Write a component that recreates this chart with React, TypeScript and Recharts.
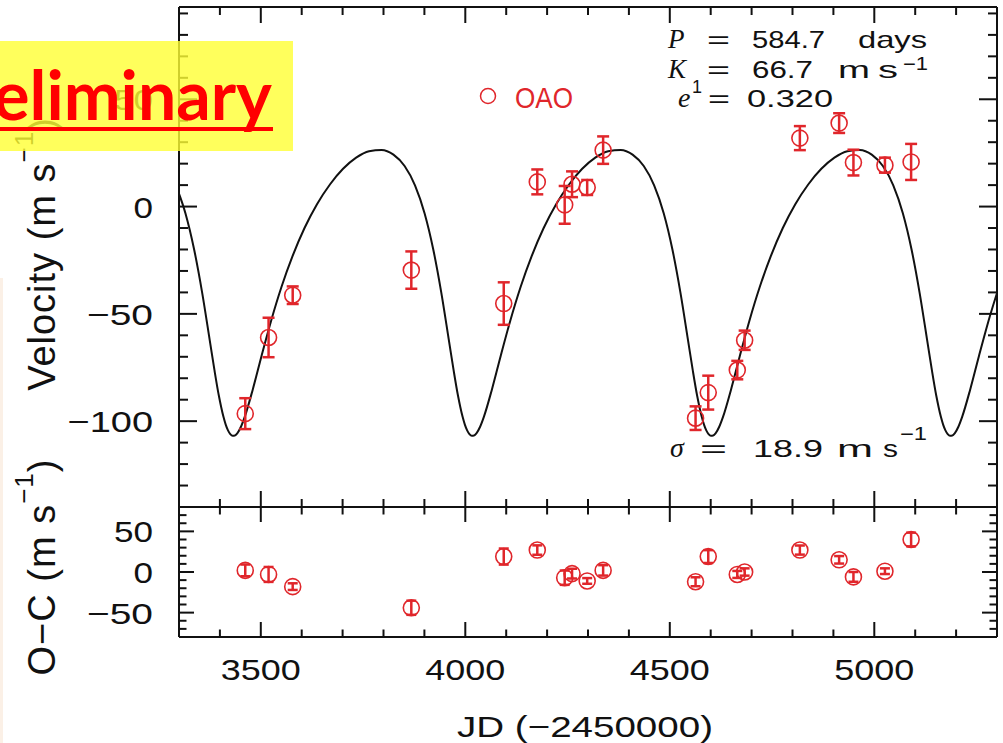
import React from "react";
import { ComposedChart, Line, Scatter, ErrorBar, XAxis, YAxis } from "recharts";

// orbit model curve (JD - 2450000, m/s)
const curveJd = [
  3292.3, 3315.7, 3337.0, 3356.7, 3374.9, 3386.4, 3397.6, 3403.2,
  3408.7, 3414.2, 3419.8, 3425.4, 3431.0, 3436.7, 3442.5, 3451.5, 3460.7, 3480.4, 3501.8, 3525.1,
  3550.5, 3577.8, 3606.9, 3637.4, 3669.0, 3701.1, 3733.1, 3764.7, 3795.2, 3824.3, 3851.6, 3877.0,
  3900.4, 3921.7, 3941.4, 3959.6, 3971.1, 3982.3, 3987.9,
  3993.4, 3998.9, 4004.5, 4010.1, 4015.7, 4021.4, 4027.2, 4036.2, 4045.4, 4065.1, 4086.5, 4109.8,
  4135.2, 4162.5, 4191.6, 4222.1, 4253.7, 4285.8, 4317.8, 4349.4, 4379.9, 4409.0, 4436.3, 4461.7,
  4485.1, 4506.4, 4526.1, 4544.3, 4555.8, 4567.0, 4572.6,
  4578.1, 4583.6, 4589.2, 4594.8, 4600.4, 4606.1, 4611.9, 4620.9, 4630.1, 4649.8, 4671.2, 4694.5,
  4719.9, 4747.2, 4776.3, 4806.8, 4838.4, 4870.5, 4902.5, 4934.1, 4964.6, 4993.7, 5021.0, 5046.4,
  5069.8, 5091.1, 5110.8, 5129.0, 5140.5, 5151.7, 5157.3,
  5162.8, 5168.3, 5173.9, 5179.5, 5185.1, 5190.8, 5196.6, 5205.6, 5214.8, 5234.5, 5255.9, 5279.2, 5304.6,
];
const curveV = [
  9.9, -3.1, -20.0, -40.2, -62.0, -75.9, -88.3, -93.5,
  -98.0, -101.6, -104.3, -106.0, -106.8, -106.7, -105.7, -102.6, -98.0, -85.2, -69.6, -53.3,
  -37.5, -23.0, -10.0, 1.1, 10.3, 17.6, 22.8, 25.8, 26.4, 24.2, 18.9, 9.9,
  -3.1, -20.0, -40.2, -62.0, -75.9, -88.3, -93.5,
  -98.0, -101.6, -104.3, -106.0, -106.8, -106.7, -105.7, -102.6, -98.0, -85.2, -69.6, -53.3,
  -37.5, -23.0, -10.0, 1.1, 10.3, 17.6, 22.8, 25.8, 26.4, 24.2, 18.9, 9.9,
  -3.1, -20.0, -40.2, -62.0, -75.9, -88.3, -93.5,
  -98.0, -101.6, -104.3, -106.0, -106.8, -106.7, -105.7, -102.6, -98.0, -85.2, -69.6, -53.3,
  -37.5, -23.0, -10.0, 1.1, 10.3, 17.6, 22.8, 25.8, 26.4, 24.2, 18.9, 9.9,
  -3.1, -20.0, -40.2, -62.0, -75.9, -88.3, -93.5,
  -98.0, -101.6, -104.3, -106.0, -106.8, -106.7, -105.7, -102.6, -98.0, -85.2, -69.6, -53.3, -37.5,
];

// OAO radial velocities
const obsJd = [3462, 3519, 3578, 3868, 4094, 4176, 4243, 4261, 4298, 4337, 4563, 4594, 4665, 4683, 4818, 4914, 4949, 5026, 5090];
const obsV = [-96.5, -61.0, -41.3, -29.6, -45.2, 11.5, 0.8, 10.4, 8.9, 26.3, -98.6, -86.7, -76.2, -62.3, 31.9, 38.9, 20.5, 19.3, 20.8];
const obsErr = [7.2, 9.2, 4.1, 8.7, 9.9, 5.8, 8.8, 6.0, 3.5, 6.4, 5.5, 7.9, 4.3, 4.5, 5.6, 4.6, 6.0, 3.5, 8.4];
// residuals O-C
const resV = [2, -3, -18, -44, 19, 27, -7, -2, -11, 2, -12, 19, -3, 0, 27, 15, -6, 1, 40];

// ticks
const xTicks = [3400, 3500, 3600, 3700, 3800, 3900, 4000, 4100, 4200, 4300, 4400, 4500, 4600, 4700, 4800, 4900, 5000, 5100, 5200];
const vTicks = [-130, -120, -110, -100, -90, -80, -70, -60, -50, -40, -30, -20, -10, 0, 10, 20, 30, 40, 50, 60, 70, 80, 90];
const rTicks = [-70, -60, -50, -40, -30, -20, -10, 0, 10, 20, 30, 40, 50, 60, 70];

const W = 1003;
const H = 743;
const FONT = "'Liberation Sans', Arial, Helvetica, sans-serif";
const SERIF = "'Liberation Serif', 'Times New Roman', serif";
const RED = "#e0262b";
const INK = "#111";

const curve = curveJd.map((jd, i) => ({ jd, v: curveV[i] }));
const obs = obsJd.map((jd, i) => ({ jd, v: obsV[i], err: obsErr[i] }));
const res = obsJd.map((jd, i) => ({ jd, v: resV[i], err: obsErr[i] }));

const fmt = (v: number) => (v < 0 ? "\u2212" + Math.abs(v) : String(v));

// inward ticks like the IDL plot, labels only on major ticks
function axisTick(side: string, major: number, len: number, labels: boolean) {
  return (props: any) => {
    const { x, y, payload } = props;
    const v = payload.value as number;
    const big = v % major === 0;
    const l = big ? len : len / 2;
    let line = null;
    if (side === "left") line = <line x1={x} y1={y} x2={x + l} y2={y} />;
    if (side === "right") line = <line x1={x - l} y1={y} x2={x} y2={y} />;
    if (side === "top") line = <line x1={x} y1={y} x2={x} y2={y + l} />;
    if (side === "bottom") line = <line x1={x} y1={y - l} x2={x} y2={y} />;
    let label = null;
    if (labels && big) {
      const s = fmt(v);
      if (side === "left") {
        const n = s.replace("\u2212", "").length * 19.5 + (v < 0 ? 27 : 0);
        label = (
          <text x={x - 26} y={y + 11} textAnchor="end" textLength={n} lengthAdjust="spacingAndGlyphs"
            fontFamily={FONT} fontSize={30} fill={INK} stroke="none">{s}</text>
        );
      }
      if (side === "bottom") {
        label = (
          <text x={x} y={y + 43} textAnchor="middle" textLength={s.length * 20} lengthAdjust="spacingAndGlyphs"
            fontFamily={FONT} fontSize={30} fill={INK} stroke="none">{s}</text>
        );
      }
    }
    return (
      <g>
        <g stroke={INK} strokeWidth={2}>{line}</g>
        {label}
      </g>
    );
  };
}

const ring = (p: any) => <circle cx={p.cx} cy={p.cy} r={8} fill="none" stroke={RED} strokeWidth={1.6} />;

const axisLine = { stroke: INK, strokeWidth: 2 };
const common = { tickSize: 0, tickMargin: 0, tickLine: false, axisLine, interval: 0 as const, allowDataOverflow: true };

export default function App() {
  return (
    <div style={{ position: "absolute", left: 0, top: 0, width: W, height: H, overflow: "hidden", background: "#fff" }}>
      <div style={{ position: "absolute", left: 0, top: 0 }}>
        <ComposedChart width={W} height={H} margin={{ top: 6, right: 5, bottom: H - 508, left: 0 }}>
          <XAxis xAxisId="b" type="number" dataKey="jd" domain={[3300, 5300]} ticks={xTicks} height={1} {...common}
            tick={axisTick("bottom", 500, 16, false)} />
          <XAxis xAxisId="t" orientation="top" type="number" dataKey="jd" domain={[3300, 5300]} ticks={xTicks} height={1} {...common}
            tick={axisTick("top", 500, 16, false)} />
          <YAxis yAxisId="l" type="number" domain={[-140, 93]} ticks={vTicks} width={179} {...common}
            tick={axisTick("left", 50, 18, true)} />
          <YAxis yAxisId="r" orientation="right" type="number" domain={[-140, 93]} ticks={vTicks} width={1} {...common}
            tick={axisTick("right", 50, 18, false)} />
          <Line xAxisId="b" yAxisId="l" data={curve} dataKey="v" type="monotone" stroke={INK} strokeWidth={2}
            dot={false} isAnimationActive={false} />
          <Scatter xAxisId="b" yAxisId="l" data={obs} dataKey="v" shape={ring} isAnimationActive={false}>
            <ErrorBar dataKey="err" direction="y" width={6} stroke={RED} strokeWidth={2.5} />
          </Scatter>
        </ComposedChart>
      </div>
      <div style={{ position: "absolute", left: 0, top: 0 }}>
        <ComposedChart width={W} height={H} margin={{ top: 506, right: 5, bottom: H - 638, left: 0 }}>
          <XAxis xAxisId="b" type="number" dataKey="jd" domain={[3300, 5300]} ticks={xTicks} height={1} {...common}
            tick={axisTick("bottom", 500, 15, true)} />
          <XAxis xAxisId="t" orientation="top" type="number" dataKey="jd" domain={[3300, 5300]} ticks={xTicks} height={1} {...common}
            tick={axisTick("top", 500, 15, false)} />
          <YAxis yAxisId="l" type="number" domain={[-80, 80]} ticks={rTicks} width={179} {...common}
            tick={axisTick("left", 50, 15, true)} />
          <YAxis yAxisId="r" orientation="right" type="number" domain={[-80, 80]} ticks={rTicks} width={1} {...common}
            tick={axisTick("right", 50, 15, false)} />
          <Scatter xAxisId="b" yAxisId="l" data={res} dataKey="v" shape={ring} isAnimationActive={false}>
            <ErrorBar dataKey="err" direction="y" width={5} stroke={RED} strokeWidth={2.5} />
          </Scatter>
        </ComposedChart>
      </div>
      <svg width={W} height={H} style={{ position: "absolute", left: 0, top: 0 }}>
        <rect x={0} y={278} width={3} height={465} fill="#fbf0e6" />
        {/* axis titles */}
        <text transform="translate(55,254) rotate(-90)" textAnchor="middle" fontFamily={FONT} fontSize={38}
          letterSpacing={1} fill={INK}>
          Velocity (m s<tspan fontSize={26} dy={-22}>{"\u22121"}</tspan><tspan dy={22}>)</tspan>
        </text>
        <text transform="translate(55,567) rotate(-90)" textAnchor="middle" fontFamily={FONT} fontSize={38}
          letterSpacing={1} fill={INK}>
          {"O\u2212C (m s"}<tspan fontSize={26} dy={-22}>{"\u22121"}</tspan><tspan dy={22}>)</tspan>
        </text>
        <text x={457} y={737} textLength={256} lengthAdjust="spacingAndGlyphs" fontFamily={FONT} fontSize={30} fill={INK}>
          {"JD (\u22122450000)"}
        </text>

        {/* orbital parameters */}
        <g fontFamily={FONT} fontSize={24} fill={INK}>
          <text x={668} y={48} fontFamily={SERIF} fontStyle="italic" fontSize={27}>P</text>
          <text x={707} y={48} textLength={23} lengthAdjust="spacingAndGlyphs">=</text>
          <text x={752} y={48} textLength={73} lengthAdjust="spacingAndGlyphs">584.7</text>
          <text x={858} y={48} textLength={69} lengthAdjust="spacingAndGlyphs">days</text>

          <text x={668} y={78} fontFamily={SERIF} fontStyle="italic" fontSize={27}>K</text>
          <text x={692} y={93} fontSize={18}>1</text>
          <text x={707} y={78} textLength={23} lengthAdjust="spacingAndGlyphs">=</text>
          <text x={752} y={78} textLength={61} lengthAdjust="spacingAndGlyphs">66.7</text>
          <text x={838} y={78} textLength={32} lengthAdjust="spacingAndGlyphs">m</text>
          <text x={878} y={78} textLength={20} lengthAdjust="spacingAndGlyphs">s</text>
          <text x={903} y={70} fontSize={18} textLength={25} lengthAdjust="spacingAndGlyphs">{"\u22121"}</text>

          <text x={678} y={107} fontFamily={SERIF} fontStyle="italic" fontSize={28}>e</text>
          <text x={708} y={107} textLength={22} lengthAdjust="spacingAndGlyphs">=</text>
          <text x={747} y={107} textLength={86} lengthAdjust="spacingAndGlyphs">0.320</text>

          <text x={670} y={457} fontFamily={SERIF} fontStyle="italic" fontSize={28}>σ</text>
          <text x={700} y={457} textLength={27} lengthAdjust="spacingAndGlyphs">=</text>
          <text x={753} y={457} textLength={70} lengthAdjust="spacingAndGlyphs">18.9</text>
          <text x={837} y={457} textLength={36} lengthAdjust="spacingAndGlyphs">m</text>
          <text x={883} y={457} textLength={15} lengthAdjust="spacingAndGlyphs">s</text>
          <text x={900} y={440} fontSize={18} textLength={27} lengthAdjust="spacingAndGlyphs">{"\u22121"}</text>
        </g>

        {/* legend */}
        <circle cx={488} cy={96} r={7.5} fill="none" stroke={RED} strokeWidth={1.5} />
        <text x={515} y={108} fontFamily={FONT} fontSize={30} textLength={58} lengthAdjust="spacingAndGlyphs" fill={RED}>OAO</text>

        {/* preliminary stamp */}
        <rect x={0} y={41} width={293} height={110} fill="#ffff33" fillOpacity={0.8} />
        <text x={272} y={120} textAnchor="end" fontFamily="Lato, 'Open Sans', sans-serif" fontWeight={700} fontSize={68} fill="#ff0000">
          Preliminary
        </text>
        <rect x={0} y={127} width={273} height={4} fill="#ff0000" />
      </svg>
    </div>
  );
}
